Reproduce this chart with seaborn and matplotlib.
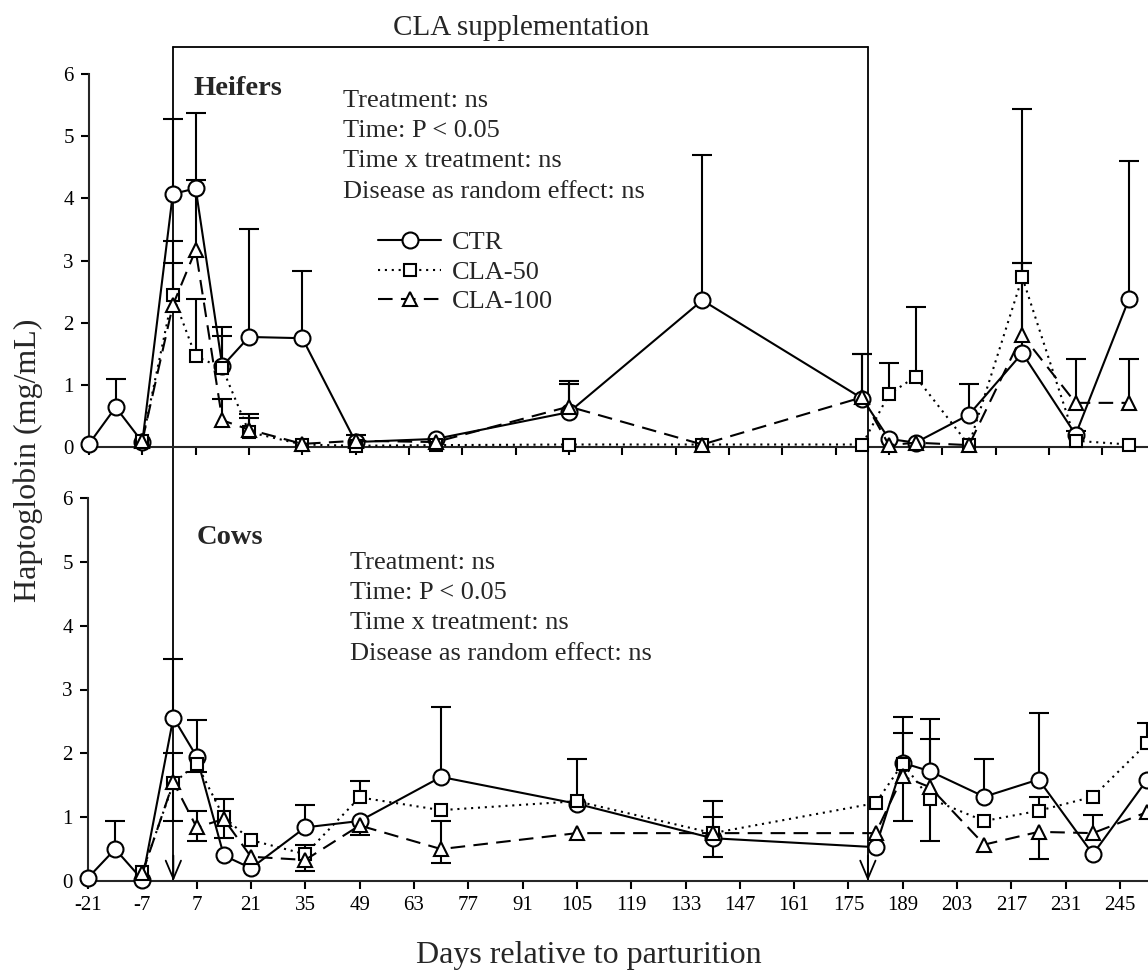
import numpy as np
import pandas as pd
import matplotlib
matplotlib.use("Agg")
import matplotlib.pyplot as plt
import matplotlib.transforms as mtransforms
from matplotlib.lines import Line2D
import seaborn as sns

# ---------------- data ----------------
days = [-21, -14, -7, 1, 7, 14, 21, 35, 49, 70, 105, 140, 182, 189, 196, 210, 224, 238, 252]
cla_days = days[2:]
x_ticks = list(range(-21, 246, 14))
y_ticks = [0, 1, 2, 3, 4, 5, 6]
cla_period = [1, 180]

# Heifers
h_ctr = [0.05, 0.64, 0.08, 4.07, 4.16, 1.30, 1.77, 1.75, 0.08, 0.13, 0.56, 2.36, 0.78, 0.13, 0.07, 0.52, 1.51, 0.20, 2.38]
h_ctr_up = [0, 0.46, 0, 1.20, 1.21, 0.63, 1.73, 1.08, 0, 0, 0.50, 2.33, 0.71, 0, 0, 0.49, 3.92, 0, 2.22]
h_cla50 = [0.10, 2.44, 1.46, 1.27, 0.24, 0.04, 0.02, 0.03, 0.04, 0.04, 0.04, 0.85, 1.13, 0.03, 2.73, 0.10, 0.04]
h_cla50_up = [0, 0.87, 0.92, 0.51, 0.22, 0, 0, 0, 0, 0, 0, 0.50, 1.12, 0, 0.23, 0.16, 0]
h_cla100 = [0.10, 2.28, 3.17, 0.43, 0.28, 0.05, 0.10, 0.08, 0.65, 0.04, 0.80, 0.03, 0.07, 0.03, 1.80, 0.71, 0.71]
h_cla100_up = [0, 0.68, 1.13, 0.35, 0.25, 0, 0.09, 0, 0.36, 0, 0.69, 0, 0, 0, 1.16, 0.71, 0.71]

# Cows
c_ctr = [0.05, 0.50, 0.02, 2.56, 1.95, 0.40, 0.20, 0.84, 0.94, 1.63, 1.21, 0.67, 0.53, 1.85, 1.72, 1.32, 1.59, 0.42, 1.59]
c_ctr_up = [0, 0.44, 0, 0.91, 0.58, 0, 0, 0.35, 0, 1.09, 0.70, 0.58, 0, 0.72, 0.82, 0.59, 1.04, 0, 0]
c_ctr_lo = [0, 0, 0, 0, 0, 0, 0, 0, 0, 0, 0, 0.30, 0, 0, 0, 0, 0, 0, 0]
c_cla50 = [0.14, 1.53, 1.84, 1.00, 0.64, 0.42, 1.31, 1.11, 1.25, 0.75, 1.22, 1.84, 1.29, 0.94, 1.10, 1.32, 2.16]
c_cla50_up = [0, 0.47, 0, 0.28, 0, 0.14, 0.25, 0, 0, 0.25, 0, 0.48, 0, 0, 0.21, 0, 0.31]
c_cla50_lo = [0, 0.59, 0.13, 0.33, 0, 0.27, 0, 0, 0, 0, 0, 0, 0.67, 0, 0, 0, 0]
c_cla100 = [0.12, 1.55, 0.84, 0.97, 0.38, 0.33, 0.87, 0.50, 0.75, 0.75, 0.75, 1.64, 1.47, 0.57, 0.77, 0.75, 1.08]
c_cla100_up = [0, 0, 0.26, 0, 0, 0, 0, 0.44, 0, 0, 0, 0, 0.75, 0, 0, 0.28, 0]
c_cla100_lo = [0, 0, 0.22, 0, 0, 0, 0.15, 0.22, 0, 0, 0, 0.70, 0, 0, 0.42, 0, 0]

groups = ["CTR", "CLA-50", "CLA-100"]

# ---------------- style ----------------
sns.set_style("ticks")
plt.rcParams['font.family'] = ['Liberation Serif', 'DejaVu Serif']
plt.rcParams['axes.linewidth'] = 1.5
plt.rcParams['axes.unicode_minus'] = False

W, H = 1148, 973
fig = plt.figure(figsize=(W / 100, H / 100), dpi=100)
fig.patch.set_facecolor("white")


def fx(px):
    return px / W


def fy(py):
    return 1 - py / H


ax_c = fig.add_axes([fx(88), fy(881), fx(1148) - fx(88), fy(498) - fy(881)])
ax_h = fig.add_axes([fx(89), fy(447), fx(1148) - fx(89), fy(74) - fy(447)])

sty = {
    "CTR": dict(marker="o", ms=11.5, dashes=None),
    "CLA-50": dict(marker="s", ms=9, dashes=(1.0, 2.3)),
    "CLA-100": dict(marker="^", ms=10.5, dashes=(7, 4)),
}


def draw_err(ax, x, y, err, up=True):
    x = np.asarray(x, float)
    y = np.asarray(y, float)
    err = np.asarray(err, float)
    m = err > 0
    if not m.any():
        return
    z = np.zeros(m.sum())
    yerr = [z, err[m]] if up else [err[m], z]
    eb = ax.errorbar(x[m], y[m], yerr=yerr, fmt="none", ecolor="black",
                     elinewidth=1.5, capsize=7, capthick=1.5, zorder=1.8,
                     clip_on=False)
    caps = eb.lines[1]
    caps[0 if up else 1].set_visible(False)
    for c in caps:
        c.set_clip_on(False)
    for b in eb.lines[2]:
        b.set_clip_on(False)


def panel(ax, series, ups, los, xlim):
    for g in groups:
        x = days if g == "CTR" else cla_days
        draw_err(ax, x, series[g], ups[g], up=True)
        draw_err(ax, x, series[g], los[g], up=False)
    for g in groups:
        x = days if g == "CTR" else cla_days
        df = pd.DataFrame({"day": x, "value": series[g]})
        s = sty[g]
        n_before = len(ax.lines)
        sns.lineplot(data=df, x="day", y="value", ax=ax, color="black",
                     marker=s["marker"], markersize=s["ms"],
                     markerfacecolor="white", markeredgecolor="black",
                     markeredgewidth=1.5, linewidth=1.5, errorbar=None,
                     legend=False, zorder=3)
        line = ax.lines[n_before]
        if s["dashes"] is not None:
            line.set_dashes(s["dashes"])
        line.set_clip_on(False)
    ax.set_xlim(*xlim)
    ax.set_ylim(0, 6)
    ax.set_xticks(x_ticks)
    ax.set_yticks(y_ticks)
    ax.set_xlabel("")
    ax.set_ylabel("")
    ax.set_facecolor("none")
    sns.despine(ax=ax)
    ax.tick_params(direction="out", length=6, width=1.5, labelsize=15,
                   colors="black", pad=5)


zeros17 = [0] * len(cla_days)
zeros19 = [0] * len(days)
panel(ax_h,
      {"CTR": h_ctr, "CLA-50": h_cla50, "CLA-100": h_cla100},
      {"CTR": h_ctr_up, "CLA-50": h_cla50_up, "CLA-100": h_cla100_up},
      {"CTR": zeros19, "CLA-50": zeros17, "CLA-100": zeros17},
      (-21, 257))
panel(ax_c,
      {"CTR": c_ctr, "CLA-50": c_cla50, "CLA-100": c_cla100},
      {"CTR": c_ctr_up, "CLA-50": c_cla50_up, "CLA-100": c_cla100_up},
      {"CTR": c_ctr_lo, "CLA-50": c_cla50_lo, "CLA-100": c_cla100_lo},
      (-21, 252.2))
ax_h.tick_params(labelbottom=False)

# ---------------- CLA supplementation box ----------------
blend = mtransforms.blended_transform_factory(ax_c.transData, fig.transFigure)
box_top, box_bot = fy(47), fy(881)
for d in cla_period:
    ax_c.add_line(Line2D([d, d], [box_bot, box_top], transform=blend,
                         color="black", lw=1.3, clip_on=False, zorder=1))
    ax_c.annotate("", xy=(d, 0), xytext=(d, 0.4),
                  arrowprops=dict(arrowstyle="->,head_length=1.3,head_width=0.55",
                                  lw=1.3, color="black", shrinkA=0, shrinkB=0,
                                  mutation_scale=10),
                  annotation_clip=False)
ax_c.add_line(Line2D(cla_period, [box_top, box_top], transform=blend,
                     color="black", lw=1.3, clip_on=False, zorder=1))

fig.text(fx(521), fy(35), "CLA supplementation", ha="center", va="baseline",
         fontsize=21)

# ---------------- panel texts ----------------
fig.text(fx(193), fy(95), "Heifers", fontsize=20.5, fontweight="bold", va="baseline")
fig.text(fx(197), fy(544), "Cows", fontsize=20.5, fontweight="bold", va="baseline")

stats = ["Treatment: ns", "Time: P < 0.05", "Time x treatment: ns",
         "Disease as random effect: ns"]
for txt, yb in zip(stats, [107, 137, 167, 198]):
    fig.text(fx(343), fy(yb), txt, fontsize=19, va="baseline")
for txt, yb in zip(stats, [569, 599, 629, 660]):
    fig.text(fx(350), fy(yb), txt, fontsize=19, va="baseline")

# ---------------- legend ----------------
handles = []
for g in groups:
    s = sty[g]
    h = Line2D([], [], color="black", lw=1.5, marker=s["marker"],
               markersize=s["ms"], markerfacecolor="white",
               markeredgecolor="black", markeredgewidth=1.5)
    if s["dashes"] is not None:
        h.set_dashes(s["dashes"])
    handles.append(h)
ax_h.legend(handles, groups, loc="upper left",
            bbox_to_anchor=(fx(378), fy(231)), bbox_transform=fig.transFigure,
            frameon=False, fontsize=19, handlelength=2.4, handletextpad=0.4,
            labelspacing=0.22, borderpad=0, borderaxespad=0)

# ---------------- axis labels ----------------
fig.text(fx(28), fy(460), "Haptoglobin (mg/mL)", rotation=90, ha="center",
         va="center", fontsize=23)
fig.text(fx(589), fy(956), "Days relative to parturition", ha="center",
         va="center", fontsize=23)

fig.savefig("out.png", dpi=100)
